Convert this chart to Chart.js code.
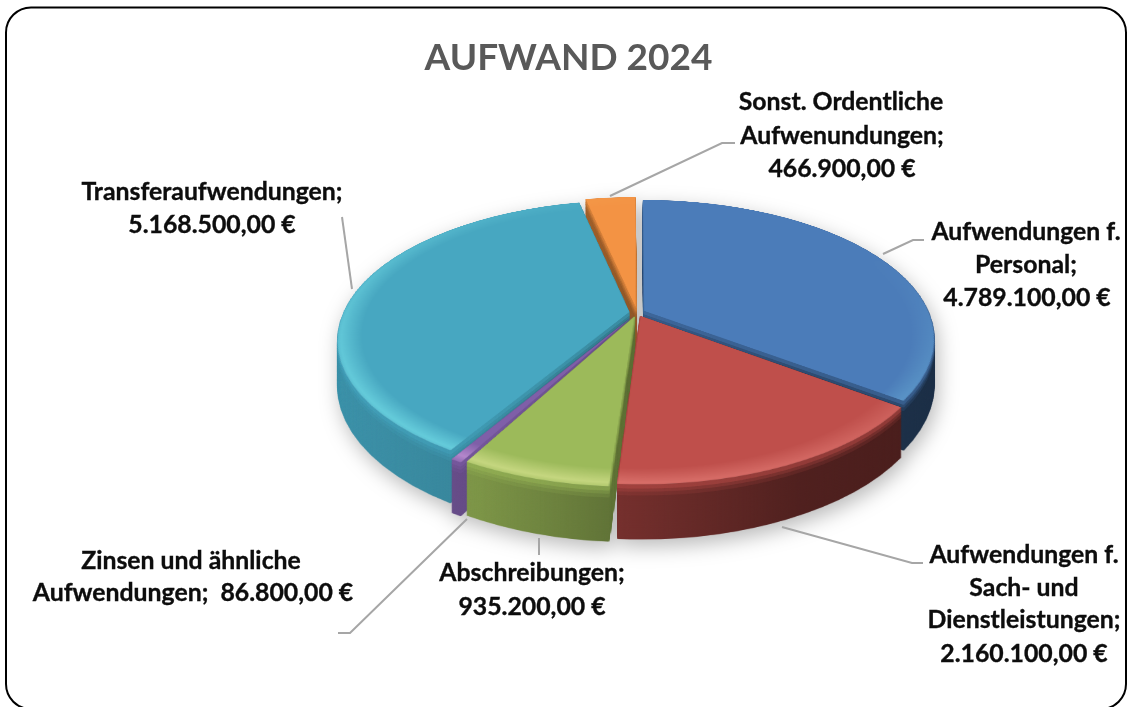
<!DOCTYPE html>
<html lang="de">
<head>
<meta charset="utf-8">
<title>AUFWAND 2024</title>
<style>html,body{margin:0;padding:0;background:#fff}canvas{display:block}</style>
<script src="https://cdn.jsdelivr.net/npm/chart.js@4"></script>
</head>
<body>
<canvas id="c" width="1127" height="707"></canvas>
<script>
const categories = ["Aufwendungen f. Personal","Aufwendungen f. Sach- und Dienstleistungen","Abschreibungen","Zinsen und ähnliche Aufwendungen","Transferaufwendungen","Sonst. Ordentliche Aufwenundungen"];
const values = [4789100,2160100,935200,86800,5168500,466900];
const colors = ["#4b7cb9","#bf4f4b","#9cba5a","#7f5fa8","#47a7c1","#f39344"];
const titleText = "AUFWAND 2024";
const fmt = v => v.toLocaleString("de-DE",{minimumFractionDigits:2,maximumFractionDigits:2}) + " €";

// label text lines per slice, with the value taken from the data
const labelLines = [
  [["Aufwendungen f.",1026,240],["Personal;",1026,273],[fmt(values[0]),1027,306]],
  [["Aufwendungen f.",1024,563],["Sach- und",1024,596],["Dienstleistungen;",1024,628],[fmt(values[1]),1024,662]],
  [["Abschreibungen;",532,581],[fmt(values[2]),532,615]],
  [["Zinsen und ähnliche",191,569],["Aufwendungen;  "+fmt(values[3]),193,601]],
  [["Transferaufwendungen;",212,200],[fmt(values[4]),212,233]],
  [["Sonst. Ordentliche",841,110],["Aufwenundungen;",842,144],[fmt(values[5]),842,177]]
];
const leaders = [
  [[883,254],[913,240],[924,240]],
  [[782,527],[912,563],[923,563]],
  [[539,538],[539,555]],
  [[467,519],[350,633],[338,633]],
  [[342,217],[352,289]],
  [[610,196],[722,143],[735,143]]
];

// projection of the flat pie into a tilted disc
const VIEW = {cx:637, cy:312, halfWidth:299, back:116, front:177, depth:44};
const OFFSET = 32;

function layer(w,h){const c=document.createElement("canvas");c.width=w;c.height=h;return c;}

function warp(ctx,src,pie,P,d){
  for(let Y=P.ymin;Y<=P.ymax;Y++){
    const den=P.a+Y*P.K;
    if(den<=0) continue;
    const v=(Y-d)/den;
    if(Math.abs(v)>P.span) continue;
    const s=1/(1-P.K*v);
    const hw=P.span, sh=Math.max(1,1/den);
    ctx.drawImage(src,pie.x-hw,pie.y+v-sh/2,2*hw,sh,VIEW.cx-hw*P.h*s,VIEW.cy+Y,2*hw*P.h*s,1);
  }
}

const pie3d = {
  id:"pie3d",
  beforeDraw(chart){
    const ctx=chart.ctx;
    ctx.save();
    ctx.fillStyle="#fff";ctx.fillRect(0,0,chart.width,chart.height);
    ctx.strokeStyle="#000";ctx.lineWidth=2;
    ctx.beginPath();ctx.roundRect(6,7.5,1120,701.5,25);ctx.stroke();
    ctx.restore();
  },
  beforeDatasetsDraw(chart){
    const W=chart.width,H=chart.height,main=chart.ctx;
    const arcs=chart.getDatasetMeta(0).data;
    const pie=arcs[0];
    const Re=pie.outerRadius+OFFSET/2;
    const k=(VIEW.front-VIEW.back)/(VIEW.front+VIEW.back);
    const aR=VIEW.back*(1+k);
    const P={a:aR/Re,K:k/Re,h:VIEW.halfWidth/Re,span:Re+6,ymin:-140,ymax:270};

    // flat, library-drawn slices
    const flat=layer(W,H),fx=flat.getContext("2d");
    arcs.forEach(a=>a.draw(fx));

    // side wall: stacked copies of the flat pie, lit more strongly near the rim
    const side=layer(W,H),sx=side.getContext("2d");
    const bands=[[VIEW.depth,9,1],[9,6,.85],[6,3.5,.65],[3.5,0,.4]];
    bands.forEach(([from,to,m])=>{
      const b=layer(W,H),bx=b.getContext("2d");
      for(let d=from;d>=to;d-=0.5) warp(bx,flat,pie,P,d);
      bx.globalCompositeOperation="source-atop";
      const g=bx.createLinearGradient(336,0,937,0);
      g.addColorStop(0,`rgba(0,0,0,${.12*m})`);
      g.addColorStop(.24,`rgba(0,0,0,${.2*m})`);
      g.addColorStop(.46,`rgba(0,0,0,${.38*m})`);
      g.addColorStop(.77,`rgba(0,0,0,${.58*m})`);
      g.addColorStop(1,`rgba(0,0,0,${.62*m})`);
      bx.fillStyle=g;bx.fillRect(0,0,W,H);
      sx.drawImage(b,0,0);
    });

    // top face with bevel highlight per slice
    const lit=layer(W,H),lx=lit.getContext("2d");
    arcs.forEach(a=>{
      const t=layer(W,H),tx=t.getContext("2d");
      a.draw(tx);
      const mid=(a.startAngle+a.endAngle)/2;
      const mx=a.x+Math.cos(mid)*OFFSET/4,my=a.y+Math.sin(mid)*OFFSET/4;
      const Ro=a.outerRadius+OFFSET/4;
      const hl=layer(W,H),hx=hl.getContext("2d");
      const r=hx.createRadialGradient(mx,my,0,mx,my,Ro);
      r.addColorStop(0,"rgba(255,255,255,0)");
      r.addColorStop((Ro-30)/Ro,"rgba(255,255,255,0)");
      r.addColorStop((Ro-9)/Ro,"rgba(255,255,255,.42)");
      r.addColorStop(1,"rgba(255,255,255,.12)");
      hx.fillStyle=r;hx.fillRect(0,0,W,H);
      hx.globalCompositeOperation="destination-in";
      const m=hx.createLinearGradient(a.x-.55*Ro,a.y+.75*Ro,a.x+.45*Ro,a.y-.75*Ro);
      m.addColorStop(0,"rgba(0,0,0,1)");
      m.addColorStop(.6,"rgba(0,0,0,.35)");
      m.addColorStop(1,"rgba(0,0,0,0)");
      hx.fillStyle=m;hx.fillRect(0,0,W,H);
      tx.globalCompositeOperation="overlay";
      tx.drawImage(hl,0,0);
      tx.globalCompositeOperation="destination-in";
      a.draw(tx);
      tx.globalCompositeOperation="source-over";
      lx.drawImage(t,0,0);
    });

    main.save();
    main.shadowColor="rgba(0,0,0,.27)";main.shadowBlur=20;main.shadowOffsetX=3;main.shadowOffsetY=7;
    main.drawImage(side,0,0);
    main.restore();
    warp(main,lit,pie,P,0);

    // leader lines
    main.save();
    main.strokeStyle="#a6a6a6";main.lineWidth=2;
    leaders.forEach(l=>{main.beginPath();l.forEach((p,i)=>i?main.lineTo(p[0],p[1]):main.moveTo(p[0],p[1]));main.stroke();});
    // labels
    main.fillStyle="#0d0d0d";main.strokeStyle="#0d0d0d";main.lineWidth=.35;
    main.font="700 24.8px Lato";main.textAlign="center";main.textBaseline="alphabetic";
    labelLines.forEach(ls=>ls.forEach(([t,x,y])=>{main.fillText(t,x,y);main.strokeText(t,x,y);}));
    main.restore();
    return false;
  }
};

new Chart(document.getElementById("c"),{
  type:"pie",
  data:{labels:categories,datasets:[{data:values,backgroundColor:colors,borderWidth:0,offset:OFFSET,hoverOffset:0}]},
  options:{
    responsive:false,animation:false,
    layout:{padding:{left:10,top:0,bottom:0}},
    plugins:{
      legend:{display:false},tooltip:{enabled:false},
      title:{display:true,text:titleText,color:"#595959",font:{family:"Lato",size:37,weight:"700"},padding:{top:36,bottom:6}}
    }
  },
  plugins:[pie3d]
});
</script>
</body>
</html>
